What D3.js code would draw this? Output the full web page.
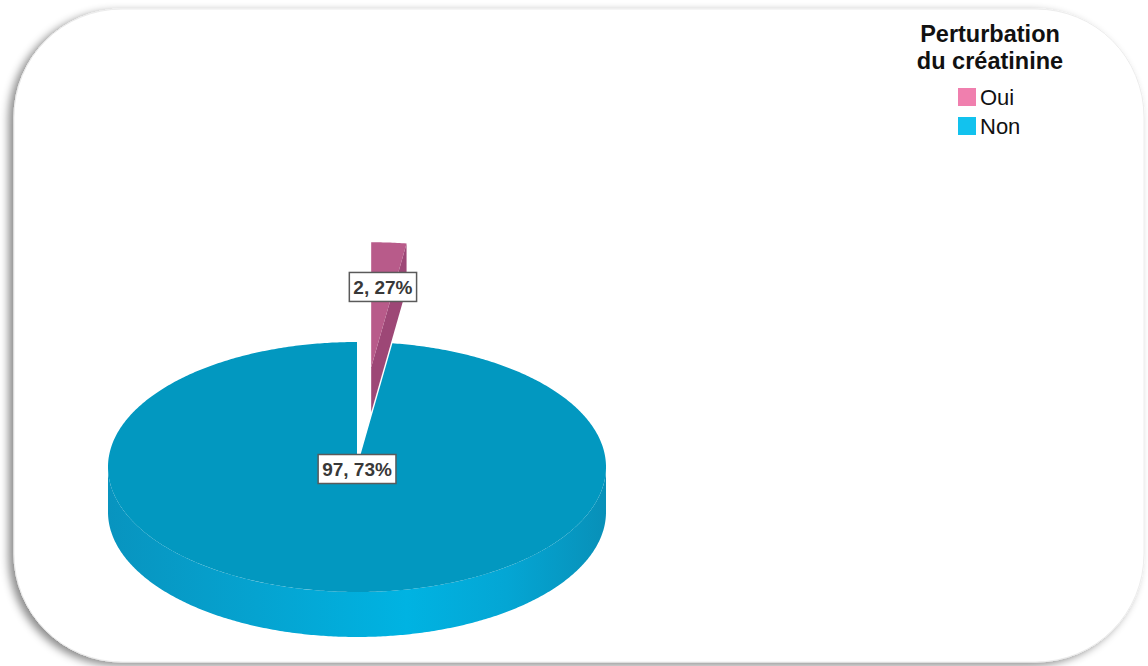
<!DOCTYPE html>
<html>
<head>
<meta charset="utf-8">
<script src="https://cdn.jsdelivr.net/npm/d3@7"></script>
<style>
  html, body { margin: 0; padding: 0; background: #ffffff; }
  svg { display: block; }
</style>
</head>
<body>
<svg id="chart" width="1148" height="666"></svg>
<script>
// Pie data: category names, shares (%) and the labels printed on the slices
const categories = ["Oui", "Non"];
const shares = [2.27, 97.73];
const sliceLabels = ["2, 27%", "97, 73%"];
const legendTitle = ["Perturbation", "du créatinine"];
const explode = [0.8, 0];

const topColors = ["#b85b8a", "#0298c0"];
const sideColors = ["#9d4776", "#0aa2cc"];
const legendColors = ["#f07fae", "#12c2ee"];

const W = 1148, H = 666;
const svg = d3.select("#chart");
const defs = svg.append("defs");

// ---- card frame with soft shadow ----
const shadow = defs.append("filter").attr("id", "cardShadow")
  .attr("x", "-5%").attr("y", "-5%").attr("width", "110%").attr("height", "110%");
shadow.append("feDropShadow")
  .attr("dx", -5).attr("dy", 3).attr("stdDeviation", 4)
  .attr("flood-color", "#000").attr("flood-opacity", 0.45);

svg.append("rect")
  .attr("x", 14).attr("y", 9).attr("width", 1130).attr("height", 653)
  .attr("rx", 108).attr("ry", 108)
  .attr("fill", "#ffffff")
  .attr("stroke", "#ececec").attr("stroke-width", 1)
  .attr("filter", "url(#cardShadow)");

// ---- 3D pie geometry ----
const cx = 357, cy = 467, rx = 249, ry = 125, thick = 45;
const sx = d3.scaleLinear().domain([-1, 1]).range([cx - rx, cx + rx]);
const sy = d3.scaleLinear().domain([-1, 1]).range([cy - ry, cy + ry]);

const pie = d3.pie().sort(null).value(d => d.value)
  .startAngle(0).endAngle(2 * Math.PI);
const slices = pie(categories.map((c, i) => ({ name: c, value: shares[i], i })));

// project a point on the disc: angle clockwise from the back, radius 0..1, depth 0 (top) or 1 (bottom)
function proj(a, r, z, off) {
  const ux = r * Math.sin(a) + off[0];
  const uy = -r * Math.cos(a) + off[1];
  return [sx(ux), sy(uy) + z * thick];
}
function arcPoints(a0, a1, z, off) {
  const n = Math.max(2, Math.ceil(Math.abs(a1 - a0) / 0.01));
  return d3.range(n + 1).map(k => proj(a0 + (a1 - a0) * k / n, 1, z, off));
}
const line = d3.line();

slices.forEach(s => {
  const mid = (s.startAngle + s.endAngle) / 2;
  const e = explode[s.data.i];
  s.off = [e * Math.sin(mid), -e * Math.cos(mid)];
  s.mid = mid;
});

// gradient for the outer wall of the large slice
const grad = defs.append("linearGradient").attr("id", "wallGrad")
  .attr("gradientUnits", "userSpaceOnUse")
  .attr("x1", cx - rx).attr("x2", cx + rx).attr("y1", 0).attr("y2", 0);
[[0, "#0894bf"], [0.3, "#05a3d0"], [0.6, "#00b3e2"], [0.8, "#04a6d4"], [1, "#0890b8"]]
  .forEach(([o, c]) => grad.append("stop").attr("offset", o).attr("stop-color", c));

const g = svg.append("g");

// back (exploded) slice first, then the main body
const order = slices.slice().sort((a, b) => b.off[1] < a.off[1] ? 1 : -1);
order.forEach(s => {
  const i = s.data.i;
  const a0 = s.startAngle, a1 = s.endAngle, off = s.off;

  // outer wall (front half only)
  const w0 = Math.max(a0, Math.PI / 2), w1 = Math.min(a1, 3 * Math.PI / 2);
  if (w1 > w0) {
    const pts = arcPoints(w0, w1, 0, off).concat(arcPoints(w1, w0, 1, off));
    g.append("path").attr("d", line(pts) + "Z")
      .attr("fill", i === 1 ? "url(#wallGrad)" : sideColors[i]);
  }

  // cut face at the end angle (faces the viewer for a slice near the back)
  if (explode[i] > 0) {
    const c0 = proj(0, 0, 0, off), r0 = proj(a1, 1, 0, off),
          r1 = proj(a1, 1, 1, off), c1 = proj(0, 0, 1, off);
    g.append("path").attr("d", line([c0, r0, r1, c1]) + "Z")
      .attr("fill", sideColors[i]);
  }

  // top face
  const top = [proj(0, 0, 0, off)].concat(arcPoints(a0, a1, 0, off));
  g.append("path").attr("d", line(top) + "Z").attr("fill", topColors[i]);
});

// ---- value labels ----
const labelFont = "'Liberation Sans', Arial, sans-serif";
slices.forEach(s => {
  const i = s.data.i;
  const r = explode[i] > 0 ? 0.66 : 0;
  const p = proj(s.mid, r, 0, s.off);
  const lg = svg.append("g").attr("transform", `translate(${p[0]},${p[1] + 2})`);
  const t = lg.append("text")
    .attr("text-anchor", "middle").attr("dy", "0.36em")
    .attr("font-family", labelFont).attr("font-weight", "bold")
    .attr("font-size", 19).attr("fill", "#383838")
    .text(sliceLabels[i]);
  const bb = t.node().getBBox();
  lg.insert("rect", "text")
    .attr("x", bb.x - 4).attr("y", -14.5)
    .attr("width", bb.width + 8).attr("height", 29)
    .attr("fill", "#ffffff").attr("stroke", "#5a5a5a").attr("stroke-width", 1.5);
});

// ---- legend ----
const leg = svg.append("g");
leg.selectAll("text.title").data(legendTitle).join("text")
  .attr("class", "title")
  .attr("x", 990).attr("y", (d, k) => 42 + k * 27)
  .attr("text-anchor", "middle")
  .attr("font-family", labelFont).attr("font-weight", "bold")
  .attr("font-size", 23.5).attr("fill", "#111")
  .text(d => d);

const items = leg.selectAll("g.item").data(categories).join("g")
  .attr("class", "item")
  .attr("transform", (d, k) => `translate(958,${88 + k * 29})`);
items.append("rect").attr("width", 18).attr("height", 18)
  .attr("fill", (d, k) => legendColors[k]);
items.append("text").attr("x", 22).attr("y", 17)
  .attr("font-family", labelFont).attr("font-size", 22).attr("fill", "#111")
  .text(d => d);
</script>
</body>
</html>
